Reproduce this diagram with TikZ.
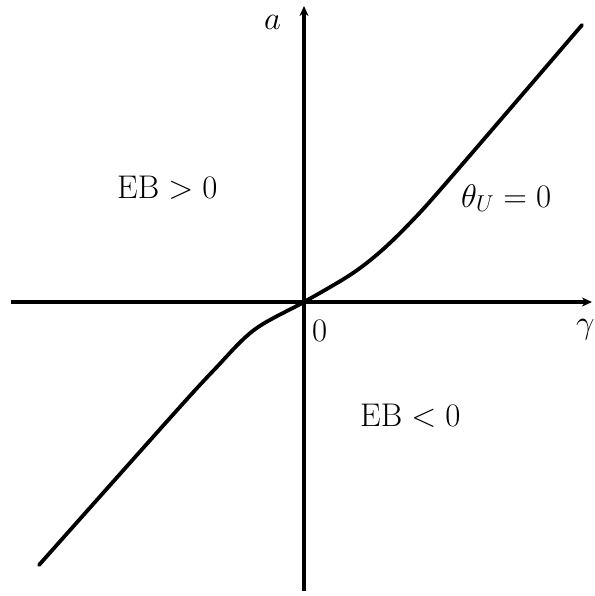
\RequirePackage{fix-cm}
\documentclass[tikz,border=0pt]{standalone}
\usetikzlibrary{arrows.meta}
\begin{document}
\begin{tikzpicture}[x=1pt,y=-1pt,
  axis/.style={line width=3.5pt,-{Stealth[length=10pt,width=9pt]}},
  curve/.style={line width=3.8pt,line cap=round},
  lbl/.style={inner sep=0pt,anchor=base west,font=\fontsize{32.8}{39}\selectfont}]
\useasboundingbox (0,0) rectangle (594,596);
\coordinate (xl) at (11,302);
\coordinate (xr) at (592,302);
\coordinate (yb) at (304,591);
\coordinate (yt) at (304,6);
\draw[axis] (xl) -- (xr);
\draw[axis] (yb) -- (yt);
\draw[curve] plot[smooth,tension=0.55] coordinates {(39,565) (170,418) (214,370) (254,330) (304,302) (350,275) (380,252) (410,223) (447,182) (582,25)};
\node[lbl] (la) at (264,30) {$a$};
\node[lbl] (lgamma) at (576,333) {$\gamma$};
\node[lbl] (lzero) at (312,341) {$0$};
\node[lbl] (lpos) at (117,198) {$\mathrm{EB}>0$};
\node[lbl] (ltheta) at (461,207) {$\theta_U=0$};
\node[lbl] (lneg) at (360,426) {$\mathrm{EB}<0$};
\end{tikzpicture}
\end{document}
